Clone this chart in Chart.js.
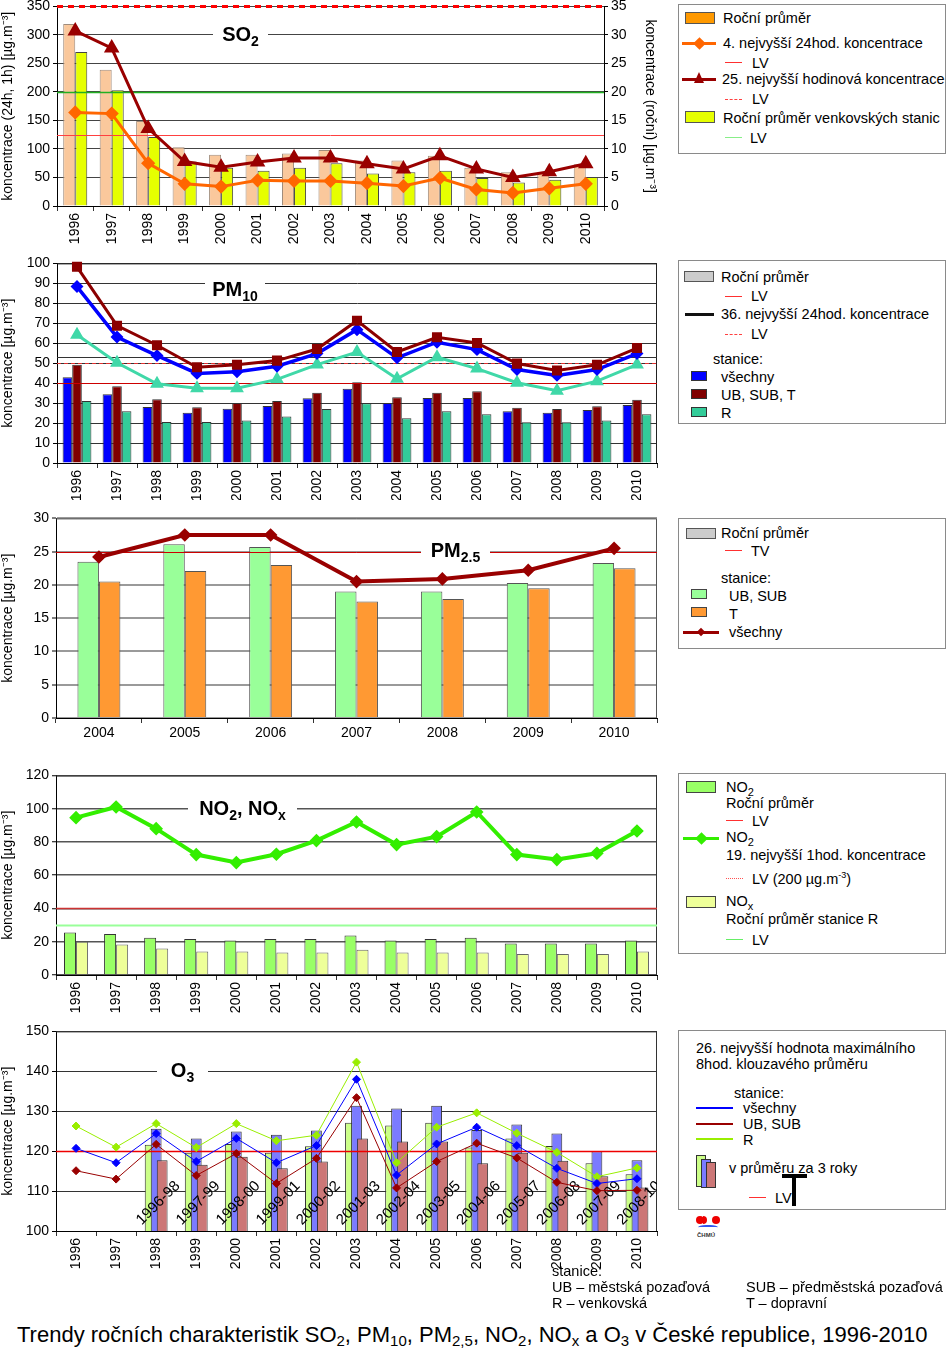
<!DOCTYPE html>
<html>
<head>
<meta charset="utf-8">
<script src="https://cdn.jsdelivr.net/npm/chart.js@4.4.0/dist/chart.umd.min.js"></script>
<style>
body { margin: 0; background: #fff; font-family: "Liberation Sans", Arial, sans-serif; color: #000; }
#page { position: relative; width: 950px; height: 1351px; overflow: hidden; }
#page canvas { position: absolute; left: 0; }
.ttl { position: absolute; background: #fff; font-weight: bold; font-size: 20px; line-height: 24px; height: 24px; text-align: center; z-index: 2; }
.ttl sub { font-size: 14px; vertical-align: -5px; line-height: 0; }
.sub { font-size: 11px; vertical-align: -4px; line-height: 0; }
</style>
</head>
<body>
<div id="page">
  <canvas id="c1" width="670" height="250" style="top:-5px"></canvas>
  <canvas id="c2" width="670" height="248" style="top:252px"></canvas>
  <canvas id="c3" width="670" height="240" style="top:507px"></canvas>
  <canvas id="c4" width="670" height="250" style="top:764px"></canvas>
  <canvas id="c5" width="670" height="250" style="top:1020px"></canvas>

  <div class="ttl" style="left:213px;top:22px;width:55px">SO<sub>2</sub></div>
  <div class="ttl" style="left:205px;top:277px;width:60px">PM<sub>10</sub></div>
  <div class="ttl" style="left:421px;top:538px;width:69px">PM<sub>2.5</sub></div>
  <div class="ttl" style="left:188px;top:796px;width:109px">NO<sub>2</sub>, NO<sub>x</sub></div>
  <div class="ttl" style="left:157px;top:1058px;width:51px">O<sub>3</sub></div>
</div>

<script>
// --- data ---
const years = ['1996','1997','1998','1999','2000','2001','2002','2003','2004','2005','2006','2007','2008','2009','2010'];
const years25 = ['2004','2005','2006','2007','2008','2009','2010'];

// SO2: annual means (right axis), 24h and 1h percentiles (left axis)
const so2AnnualAll   = [31.9, 23.9, 14.9, 10.3, 9.0, 9.0, 9.2, 9.8, 8.0, 8.0, 8.8, 6.7, 5.9, 5.9, 7.3];
const so2AnnualRural = [27.0, 20.3, 12.1, 7.8, 6.7, 6.2, 6.7, 7.5, 5.7, 5.9, 6.2, 4.9, 4.1, 4.6, 5.1];
const so2Day4   = [164, 162, 75, 39, 34, 45, 44, 44, 40, 35, 49, 29, 23, 31, 39];
const so2Hour25 = [307, 277, 136, 78, 68, 77, 84, 84, 74, 65, 88, 65, 50, 60, 74];
const so2Limits = { hour: 350, day: 125, eco: 20 };

// PM10
const pm10AnnualAll = [43.0, 34.4, 28.0, 25.2, 27.2, 28.6, 32.4, 37.2, 30.0, 32.6, 32.6, 25.9, 25.2, 26.6, 29.1];
const pm10AnnualUrb = [49.2, 38.4, 31.9, 27.9, 30.0, 31.0, 35.2, 40.4, 33.0, 35.2, 35.9, 27.7, 27.1, 28.4, 31.7];
const pm10AnnualRur = [31.0, 25.9, 20.6, 20.6, 21.3, 23.3, 27.0, 29.9, 22.4, 25.9, 24.4, 20.4, 20.4, 21.3, 24.4];
const pm10Day36All = [88.4, 63.1, 53.8, 44.9, 45.7, 48.5, 54.8, 66.8, 52.7, 60.5, 56.8, 46.8, 43.9, 46.8, 54.8];
const pm10Day36Urb = [98.3, 68.8, 59.0, 48.0, 49.2, 51.3, 57.1, 71.3, 55.6, 63.0, 60.1, 49.8, 46.3, 49.2, 57.6];
const pm10Day36Rur = [64.3, 50.2, 39.7, 37.5, 37.5, 41.9, 49.3, 55.6, 42.2, 53.0, 47.3, 40.2, 36.2, 41.0, 49.3];
const pm10Limits = { year: 40, day: 50, other: 53 };

// PM2.5
const pm25Urb     = [23.5, 26.1, 25.7, 19.0, 19.0, 20.3, 23.3];
const pm25Traffic = [20.5, 22.1, 23.0, 17.5, 17.9, 19.5, 22.5];
const pm25All     = [24.2, 27.5, 27.5, 20.5, 20.9, 22.2, 25.5];
const pm25Target = 25;

// NO2, NOx
const no2Annual  = [25.6, 24.6, 22.4, 21.6, 20.8, 21.6, 21.6, 23.8, 20.8, 21.6, 22.4, 19.0, 19.0, 19.0, 20.8];
const noxRural   = [20.0, 18.4, 16.0, 14.2, 14.2, 13.6, 13.6, 15.2, 13.6, 13.6, 13.6, 12.6, 12.6, 12.6, 14.2];
const no2Hour19  = [94.6, 101, 88, 72.4, 67.6, 72.6, 80.8, 92, 78.4, 83.2, 98, 72.4, 69.4, 73.2, 86.6];
const no2Limits = { no2: 40, nox: 30 };

// O3
const o3All = [120.7, 117.1, 124.4, 117.4, 123.2, 117.1, 121.4, 138.0, 114.0, 121.8, 126.0, 121.4, 115.7, 111.9, 113.1];
const o3Urb = [115.1, 113.0, 121.7, 113.9, 119.4, 111.9, 118.2, 133.4, 110.8, 117.4, 122.0, 118.3, 112.2, 110.1, 110.2];
const o3Rur = [126.3, 121.0, 126.9, 120.9, 126.9, 122.6, 124.0, 142.3, 117.1, 126.0, 129.6, 124.5, 119.7, 113.6, 115.8];
const o3Avg3Rur = [null, null, 121.6, 119.6, 121.8, 119.6, 121.2, 127.1, 126.4, 127.1, 120.9, 123.2, 121.3, 117.0, 114.2];
const o3Avg3All = [null, null, 125.6, 123.2, 124.9, 124.1, 125.2, 131.4, 130.7, 131.4, 125.3, 126.7, 124.4, 120.0, 117.7];
const o3Avg3Urb = [null, null, 117.7, 116.6, 118.6, 115.7, 117.4, 123.2, 122.4, 122.4, 117.0, 119.6, 117.6, 113.7, 110.9];
const o3Periods = ['', '', '1996-98', '1997-99', '1998-00', '1999-01', '2000-02', '2001-03', '2002-04', '2003-05', '2004-06', '2005-07', '2006-08', '2007-09', '2008-10'];
const o3Target = 120;

Chart.defaults.font.family = '"Liberation Sans", Arial, sans-serif';
Chart.defaults.font.size = 14;
Chart.defaults.color = '#000';

// draws datasets in a chosen order, with limit lines in between
function layers(cfg) {
  return {
    id: 'layers',
    beforeDatasetsDraw(chart) {
      if (!cfg.frame) return;
      const ctx = chart.ctx, a = chart.chartArea;
      ctx.save();
      ctx.strokeStyle = cfg.frame; ctx.lineWidth = 1;
      ctx.beginPath();
      ctx.moveTo(a.left, a.top + 0.5); ctx.lineTo(a.right - 0.5, a.top + 0.5); ctx.lineTo(a.right - 0.5, a.bottom);
      ctx.stroke();
      ctx.restore();
    },
    beforeDatasetDraw() { return false; },
    afterDatasetsDraw(chart) {
      const ctx = chart.ctx, a = chart.chartArea;
      ctx.save();
      ctx.beginPath();
      ctx.rect(a.left - 6, a.top - 8, a.right - a.left + 12, a.bottom - a.top + 8);
      ctx.clip();
      cfg.order.forEach(k => {
        if (k === 'refs') {
          cfg.refs.forEach(r => {
            const y = Math.round(chart.scales[r.axis || 'y'].getPixelForValue(r.value)) + 0.5;
            ctx.save();
            ctx.strokeStyle = r.color; ctx.lineWidth = r.width || 1; ctx.setLineDash(r.dash || []);
            ctx.beginPath(); ctx.moveTo(a.left, y); ctx.lineTo(a.right, y); ctx.stroke();
            ctx.restore();
          });
        } else if (k === 'periods') {
          const xs = chart.scales.x, ys = chart.scales.y;
          ctx.save();
          ctx.beginPath(); ctx.rect(a.left, a.top, a.right - a.left, a.bottom - a.top); ctx.clip();
          ctx.font = '15px "Liberation Sans", Arial, sans-serif';
          ctx.fillStyle = '#000'; ctx.textAlign = 'center'; ctx.textBaseline = 'middle';
          o3Periods.forEach((p, i) => {
            if (!p) return;
            ctx.save();
            ctx.translate(xs.getPixelForValue(i) + 2, ys.getPixelForValue(107));
            ctx.rotate(-Math.PI / 4);
            ctx.fillText(p, 0, 0);
            ctx.restore();
          });
          ctx.restore();
        } else {
          ctx.save();
          if (chart.data.datasets[k].type === 'bar') {
            ctx.beginPath(); ctx.rect(a.left, a.top - 8, a.right - a.left, a.bottom - a.top + 8); ctx.clip();
          }
          chart.getDatasetMeta(k).controller.draw();
          ctx.restore();
        }
      });
      ctx.restore();
    }
  };
}

function xAxis(h, rot) {
  return {
    type: 'category', offset: true,
    afterFit(s) { s.height = h; },
    grid: { offset: true, drawOnChartArea: false, drawTicks: true, tickLength: 5, color: '#333' },
    border: { color: '#000' },
    ticks: { autoSkip: false, minRotation: rot, maxRotation: rot, padding: 2, font: { size: 14 } }
  };
}

function yAxis(min, max, step, title, w, gridColor, gridWidth) {
  return {
    type: 'linear', position: 'left', min: min, max: max,
    afterFit(s) { s.width = w; },
    ticks: { stepSize: step, padding: 3, font: { size: 14 } },
    grid: { color: gridColor, lineWidth: gridWidth || 1, tickLength: 4, tickColor: '#000', tickWidth: 1 },
    border: { color: '#000' },
    title: { display: true, text: title, font: { size: 14 }, padding: { top: 0, bottom: 1 } }
  };
}

const base = (pad) => ({
  responsive: false, animation: false,
  layout: { padding: pad },
  plugins: { legend: { display: false }, tooltip: { enabled: false } }
});

// 1) SO2
const o1 = base({ top: 10, right: 10, left: 0, bottom: 0 });
o1.scales = {
  x: xAxis(39, 90),
  y: yAxis(0, 350, 50, 'koncentrace (24h, 1h) [µg.m⁻³]', 57, '#444'),
  y1: {
    type: 'linear', position: 'right', min: 0, max: 35,
    afterFit(s) { s.width = 56; },
    ticks: { stepSize: 5, padding: 3, font: { size: 14 } },
    grid: { drawOnChartArea: false, tickLength: 4, color: '#000' },
    border: { color: '#000' },
    title: { display: true, text: 'koncentrace (roční) [µg.m⁻³]', font: { size: 14 }, padding: { top: 2, bottom: 0 } }
  }
};
new Chart(document.getElementById('c1'), {
  data: {
    labels: years,
    datasets: [
      { type: 'bar', data: so2AnnualAll, yAxisID: 'y1', backgroundColor: '#FAC89C', borderColor: '#A08C7C', borderWidth: 1, categoryPercentage: 0.66, barPercentage: 1 },
      { type: 'bar', data: so2AnnualRural, yAxisID: 'y1', backgroundColor: '#E6FF00', borderColor: '#444', borderWidth: 1, categoryPercentage: 0.66, barPercentage: 1 },
      { type: 'line', data: so2Day4, yAxisID: 'y', borderColor: '#FF6600', backgroundColor: '#FF6600', borderWidth: 3, pointStyle: 'rectRot', pointRadius: 5, tension: 0 },
      { type: 'line', data: so2Hour25, yAxisID: 'y', borderColor: '#990000', backgroundColor: '#990000', borderWidth: 3, pointStyle: 'triangle', pointRadius: 6, tension: 0 }
    ]
  },
  options: o1,
  plugins: [layers({
    order: [0, 1, 'refs', 2, 3],
    refs: [
      { value: so2Limits.hour, color: '#FF0000', width: 3, dash: [6, 5] },
      { value: so2Limits.eco, axis: 'y1', color: '#22B022', width: 1.5 },
      { value: so2Limits.day, color: '#FF4040', width: 1 }
    ]
  })]
});

// 2) PM10
const o2 = base({ top: 10, right: 13, left: 0, bottom: 0 });
o2.scales = { x: xAxis(37, 90), y: yAxis(0, 100, 10, 'koncentrace [µg.m⁻³]', 57, '#333') };
new Chart(document.getElementById('c2'), {
  data: {
    labels: years,
    datasets: [
      { type: 'bar', data: pm10AnnualAll, backgroundColor: '#0000FF', borderColor: '#333', borderWidth: 1, categoryPercentage: 0.72, barPercentage: 1 },
      { type: 'bar', data: pm10AnnualUrb, backgroundColor: '#800000', borderColor: '#333', borderWidth: 1, categoryPercentage: 0.72, barPercentage: 1 },
      { type: 'bar', data: pm10AnnualRur, backgroundColor: '#33CC99', borderColor: '#333', borderWidth: 1, categoryPercentage: 0.72, barPercentage: 1 },
      { type: 'line', data: pm10Day36Rur, borderColor: '#40D8A8', backgroundColor: '#40D8A8', borderWidth: 3, pointStyle: 'triangle', pointRadius: 5, tension: 0 },
      { type: 'line', data: pm10Day36All, borderColor: '#0000FF', backgroundColor: '#0000FF', borderWidth: 3.5, pointStyle: 'rectRot', pointRadius: 4, tension: 0 },
      { type: 'line', data: pm10Day36Urb, borderColor: '#8B0000', backgroundColor: '#8B0000', borderWidth: 3, pointStyle: 'rect', pointRadius: 5, tension: 0 }
    ]
  },
  options: o2,
  plugins: [layers({
    frame: '#222',
    order: [0, 1, 2, 'refs', 3, 4, 5],
    refs: [
      { value: pm10Limits.other, color: '#333', width: 1 },
      { value: pm10Limits.day, color: '#E03030', width: 1, dash: [4, 3] },
      { value: pm10Limits.year, color: '#CC0000', width: 1.2 }
    ]
  })]
});

// 3) PM2.5
const o3 = base({ top: 10, right: 13, left: 0, bottom: 0 });
o3.scales = { x: xAxis(29, 0), y: yAxis(0, 30, 5, 'koncentrace [µg.m⁻³]', 56, '#9A9A9A', 2) };
new Chart(document.getElementById('c3'), {
  data: {
    labels: years25,
    datasets: [
      { type: 'bar', data: pm25Urb, backgroundColor: '#99FF99', borderColor: '#555', borderWidth: 1, categoryPercentage: 0.5, barPercentage: 1 },
      { type: 'bar', data: pm25Traffic, backgroundColor: '#FF9933', borderColor: '#555', borderWidth: 1, categoryPercentage: 0.5, barPercentage: 1 },
      { type: 'line', data: pm25All, borderColor: '#990000', backgroundColor: '#990000', borderWidth: 4, pointStyle: 'rectRot', pointRadius: 4, tension: 0 }
    ]
  },
  options: o3,
  plugins: [layers({
    frame: '#555',
    order: [0, 1, 'refs', 2],
    refs: [{ value: pm25Target, color: '#CC0000', width: 1 }]
  })]
});

// 4) NO2, NOx
const o4 = base({ top: 10, right: 13, left: 0, bottom: 0 });
o4.scales = { x: xAxis(39, 90), y: yAxis(0, 120, 20, 'koncentrace [µg.m⁻³]', 56, '#555', 1.5) };
new Chart(document.getElementById('c4'), {
  data: {
    labels: years,
    datasets: [
      { type: 'bar', data: no2Annual, backgroundColor: '#99FF66', borderColor: '#333', borderWidth: 1, categoryPercentage: 0.6, barPercentage: 1 },
      { type: 'bar', data: noxRural, backgroundColor: '#EEFF99', borderColor: '#666', borderWidth: 1, categoryPercentage: 0.6, barPercentage: 1 },
      { type: 'line', data: no2Hour19, borderColor: '#33EE00', backgroundColor: '#33EE00', borderWidth: 4, pointStyle: 'rectRot', pointRadius: 4, tension: 0 }
    ]
  },
  options: o4,
  plugins: [layers({
    frame: '#333',
    order: [0, 1, 'refs', 2],
    refs: [
      { value: no2Limits.no2, color: '#CC3333', width: 1.5 },
      { value: no2Limits.nox, color: '#99FF99', width: 2 }
    ]
  })]
});

// 5) O3
const o5 = base({ top: 10, right: 13, left: 0, bottom: 0 });
o5.scales = { x: xAxis(39, 90), y: yAxis(100, 150, 10, 'koncentrace [µg.m⁻³]', 56, '#333') };
new Chart(document.getElementById('c5'), {
  data: {
    labels: years,
    datasets: [
      { type: 'bar', data: o3Avg3Rur, backgroundColor: '#CCFF88', borderColor: '#333', borderWidth: 1, categoryPercentage: 0.45, barPercentage: 1.8 },
      { type: 'bar', data: o3Avg3All, backgroundColor: '#7B7BFF', borderColor: '#333', borderWidth: 1, categoryPercentage: 0.45, barPercentage: 1.8 },
      { type: 'bar', data: o3Avg3Urb, backgroundColor: '#CC7777', borderColor: '#333', borderWidth: 1, categoryPercentage: 0.45, barPercentage: 1.8 },
      { type: 'line', data: o3Rur, borderColor: '#99EE00', backgroundColor: '#99EE00', borderWidth: 1, pointStyle: 'rectRot', pointRadius: 4, tension: 0 },
      { type: 'line', data: o3All, borderColor: '#0000FF', backgroundColor: '#0000FF', borderWidth: 1, pointStyle: 'rectRot', pointRadius: 4, tension: 0 },
      { type: 'line', data: o3Urb, borderColor: '#990000', backgroundColor: '#990000', borderWidth: 1, pointStyle: 'rectRot', pointRadius: 4, tension: 0 }
    ]
  },
  options: o5,
  plugins: [layers({
    frame: '#333',
    order: [0, 1, 2, 'refs', 'periods', 3, 4, 5],
    refs: [{ value: o3Target, color: '#EE0000', width: 1.5 }]
  })]
});

// --- legends and notes (HTML) ---
const page = document.getElementById('page');
function el(css, html) {
  const d = document.createElement('div');
  d.style.cssText = 'position:absolute;' + css;
  if (html) d.innerHTML = html;
  page.appendChild(d);
  return d;
}
function box(x, y, w, h) { el(`left:${x}px;top:${y}px;width:${w}px;height:${h}px;border:1px solid #8A8A8A;`); }
function txt(x, y, s, size) { el(`left:${x}px;top:${y - 9}px;font-size:${size || 14.5}px;line-height:18px;white-space:nowrap;`, s); }
function sw(x, y, w, h, c, b) { el(`left:${x}px;top:${y}px;width:${w}px;height:${h}px;background:${c};border:1px solid ${b || '#555'};box-sizing:border-box;`); }
function hl(x, y, w, c, t, st) { el(`left:${x}px;top:${y - Math.floor((t || 1) / 2)}px;width:${w}px;border-top:${t || 1}px ${st || 'solid'} ${c};`); }
function dia(x, y, s, c) { el(`left:${x - s / 2}px;top:${y - s / 2}px;width:${s}px;height:${s}px;background:${c};transform:rotate(45deg);`); }
function tri(x, y, s, c) { el(`left:${x - s / 2}px;top:${y - s / 2 - 1}px;width:0;height:0;border-left:${s / 2}px solid transparent;border-right:${s / 2}px solid transparent;border-bottom:${s}px solid ${c};`); }

// legend 1 (SO2)
box(678, 4, 266, 148);
sw(685, 12, 30, 12, '#FF9900', '#555'); txt(723, 18, 'Roční průměr');
hl(682, 43, 34, '#FF6600', 3); dia(699, 43, 9, '#FF6600'); txt(723, 43, '4. nejvyšší 24hod. koncentrace');
hl(725, 62, 17, '#FF3030', 1); txt(752, 63, 'LV');
hl(682, 79, 34, '#990000', 3); tri(699, 78, 11, '#990000'); txt(722, 79, '25. nejvyšší hodinová koncentrace');
hl(725, 99, 17, '#FF4040', 1, 'dashed'); txt(752, 99, 'LV');
sw(685, 111, 30, 12, '#E6FF00', '#555'); txt(723, 118, 'Roční průměr venkovských stanic');
hl(725, 137, 17, '#88EE88', 1); txt(750, 138, 'LV');

// legend 2 (PM10)
box(678, 260, 266, 162);
sw(684, 271, 30, 11, '#CCCCCC', '#555'); txt(721, 277, 'Roční průměr');
hl(725, 296, 17, '#FF3030', 1); txt(751, 296, 'LV');
hl(685, 314, 29, '#111', 3); txt(721, 314, '36. nejvyšší 24hod. koncentrace');
hl(725, 334, 17, '#FF4040', 1, 'dashed'); txt(751, 334, 'LV');
txt(713, 359, 'stanice:');
sw(691, 371, 16, 10, '#0000FF', '#333'); txt(721, 377, 'všechny');
sw(691, 389, 16, 10, '#800000', '#333'); txt(721, 395, 'UB, SUB, T');
sw(691, 407, 16, 10, '#33CC99', '#333'); txt(721, 413, 'R');

// legend 3 (PM2.5)
box(678, 518, 266, 129);
sw(686, 528, 30, 11, '#CCCCCC', '#555'); txt(721, 533, 'Roční průměr');
hl(725, 550, 17, '#FF3030', 1); txt(751, 551, 'TV');
txt(721, 578, 'stanice:');
sw(691, 589, 16, 10, '#99FF99', '#444'); txt(729, 596, 'UB, SUB');
sw(691, 607, 16, 10, '#FF9933', '#444'); txt(729, 614, 'T');
hl(683, 632, 36, '#990000', 3); dia(701, 632, 6, '#990000'); txt(729, 632, 'všechny');

// legend 4 (NO2, NOx)
box(678, 773, 266, 179);
sw(686, 781, 30, 12, '#99FF66', '#444'); txt(726, 787, 'NO<span class="sub">2</span>');
txt(726, 803, 'Roční průměr');
hl(726, 820, 17, '#FF3030', 1); txt(752, 821, 'LV');
hl(683, 838, 36, '#33EE00', 3); dia(701, 838, 9, '#33EE00'); txt(726, 837, 'NO<span class="sub">2</span>');
txt(726, 855, '19. nejvyšší 1hod. koncentrace');
hl(726, 878, 17, '#FF5050', 1, 'dotted'); txt(752, 879, 'LV (200 µg.m<sup style="font-size:9px;line-height:0">-3</sup>)');
sw(686, 896, 30, 12, '#EEFF99', '#444'); txt(726, 901, 'NO<span class="sub">x</span>');
txt(726, 919, 'Roční průměr stanice R');
hl(726, 939, 17, '#66EE66', 1); txt(752, 940, 'LV');

// legend 5 (O3)
box(678, 1030, 266, 178);
txt(696, 1048, '26. nejvyšší hodnota maximálního');
txt(696, 1064, '8hod. klouzavého průměru');
txt(734, 1093, 'stanice:');
hl(696, 1108, 37, '#0000FF', 2); txt(743, 1108, 'všechny');
hl(696, 1124, 37, '#990000', 2); txt(743, 1124, 'UB, SUB');
hl(696, 1139, 37, '#99EE00', 2); txt(743, 1140, 'R');
sw(696, 1155, 10, 32, '#CCFF88', '#333');
sw(701, 1159, 10, 29, '#7B7BFF', '#333');
sw(706, 1162, 10, 26, '#CC7777', '#333');
txt(729, 1168, 'v průměru za 3 roky');
hl(749, 1197, 17, '#FF3030', 1); txt(775, 1198, 'LV');
el('left:782px;top:1174px;width:25px;height:4px;background:#000;');
el('left:792px;top:1174px;width:4px;height:32px;background:#000;');

// logo
el('left:696px;top:1216px;width:8px;height:8px;border-radius:50%;background:#EE0000;');
el('left:703px;top:1216px;width:4px;height:8px;border-radius:0 4px 4px 0;background:#EE0000;');
el('left:712px;top:1216px;width:8px;height:8px;border-radius:50%;background:#EE0000;');
el('left:698px;top:1225px;width:20px;height:4px;border-top:2px solid #3355EE;border-radius:40%;');
el('left:697px;top:1232px;font-size:6px;line-height:7px;font-weight:bold;color:#333;', 'ČHMÚ');

// station notes
txt(552, 1271, 'stanice:', 14.5);
txt(552, 1287, 'UB – městská pozaďová', 14.5);
txt(552, 1303, 'R – venkovská', 14.5);
txt(746, 1287, 'SUB – předměstská pozaďová', 14.5);
txt(746, 1303, 'T – dopravní', 14.5);

// figure caption
el('left:17px;top:1322px;font-size:22px;line-height:26px;white-space:nowrap;',
  'Trendy ročních charakteristik SO<span style="font-size:15px;vertical-align:-4px;line-height:0">2</span>, ' +
  'PM<span style="font-size:15px;vertical-align:-4px;line-height:0">10</span>, ' +
  'PM<span style="font-size:15px;vertical-align:-4px;line-height:0">2,5</span>, ' +
  'NO<span style="font-size:15px;vertical-align:-4px;line-height:0">2</span>, ' +
  'NO<span style="font-size:15px;vertical-align:-4px;line-height:0">x</span> a ' +
  'O<span style="font-size:15px;vertical-align:-4px;line-height:0">3</span> v České republice, 1996-2010');
</script>
</body>
</html>
